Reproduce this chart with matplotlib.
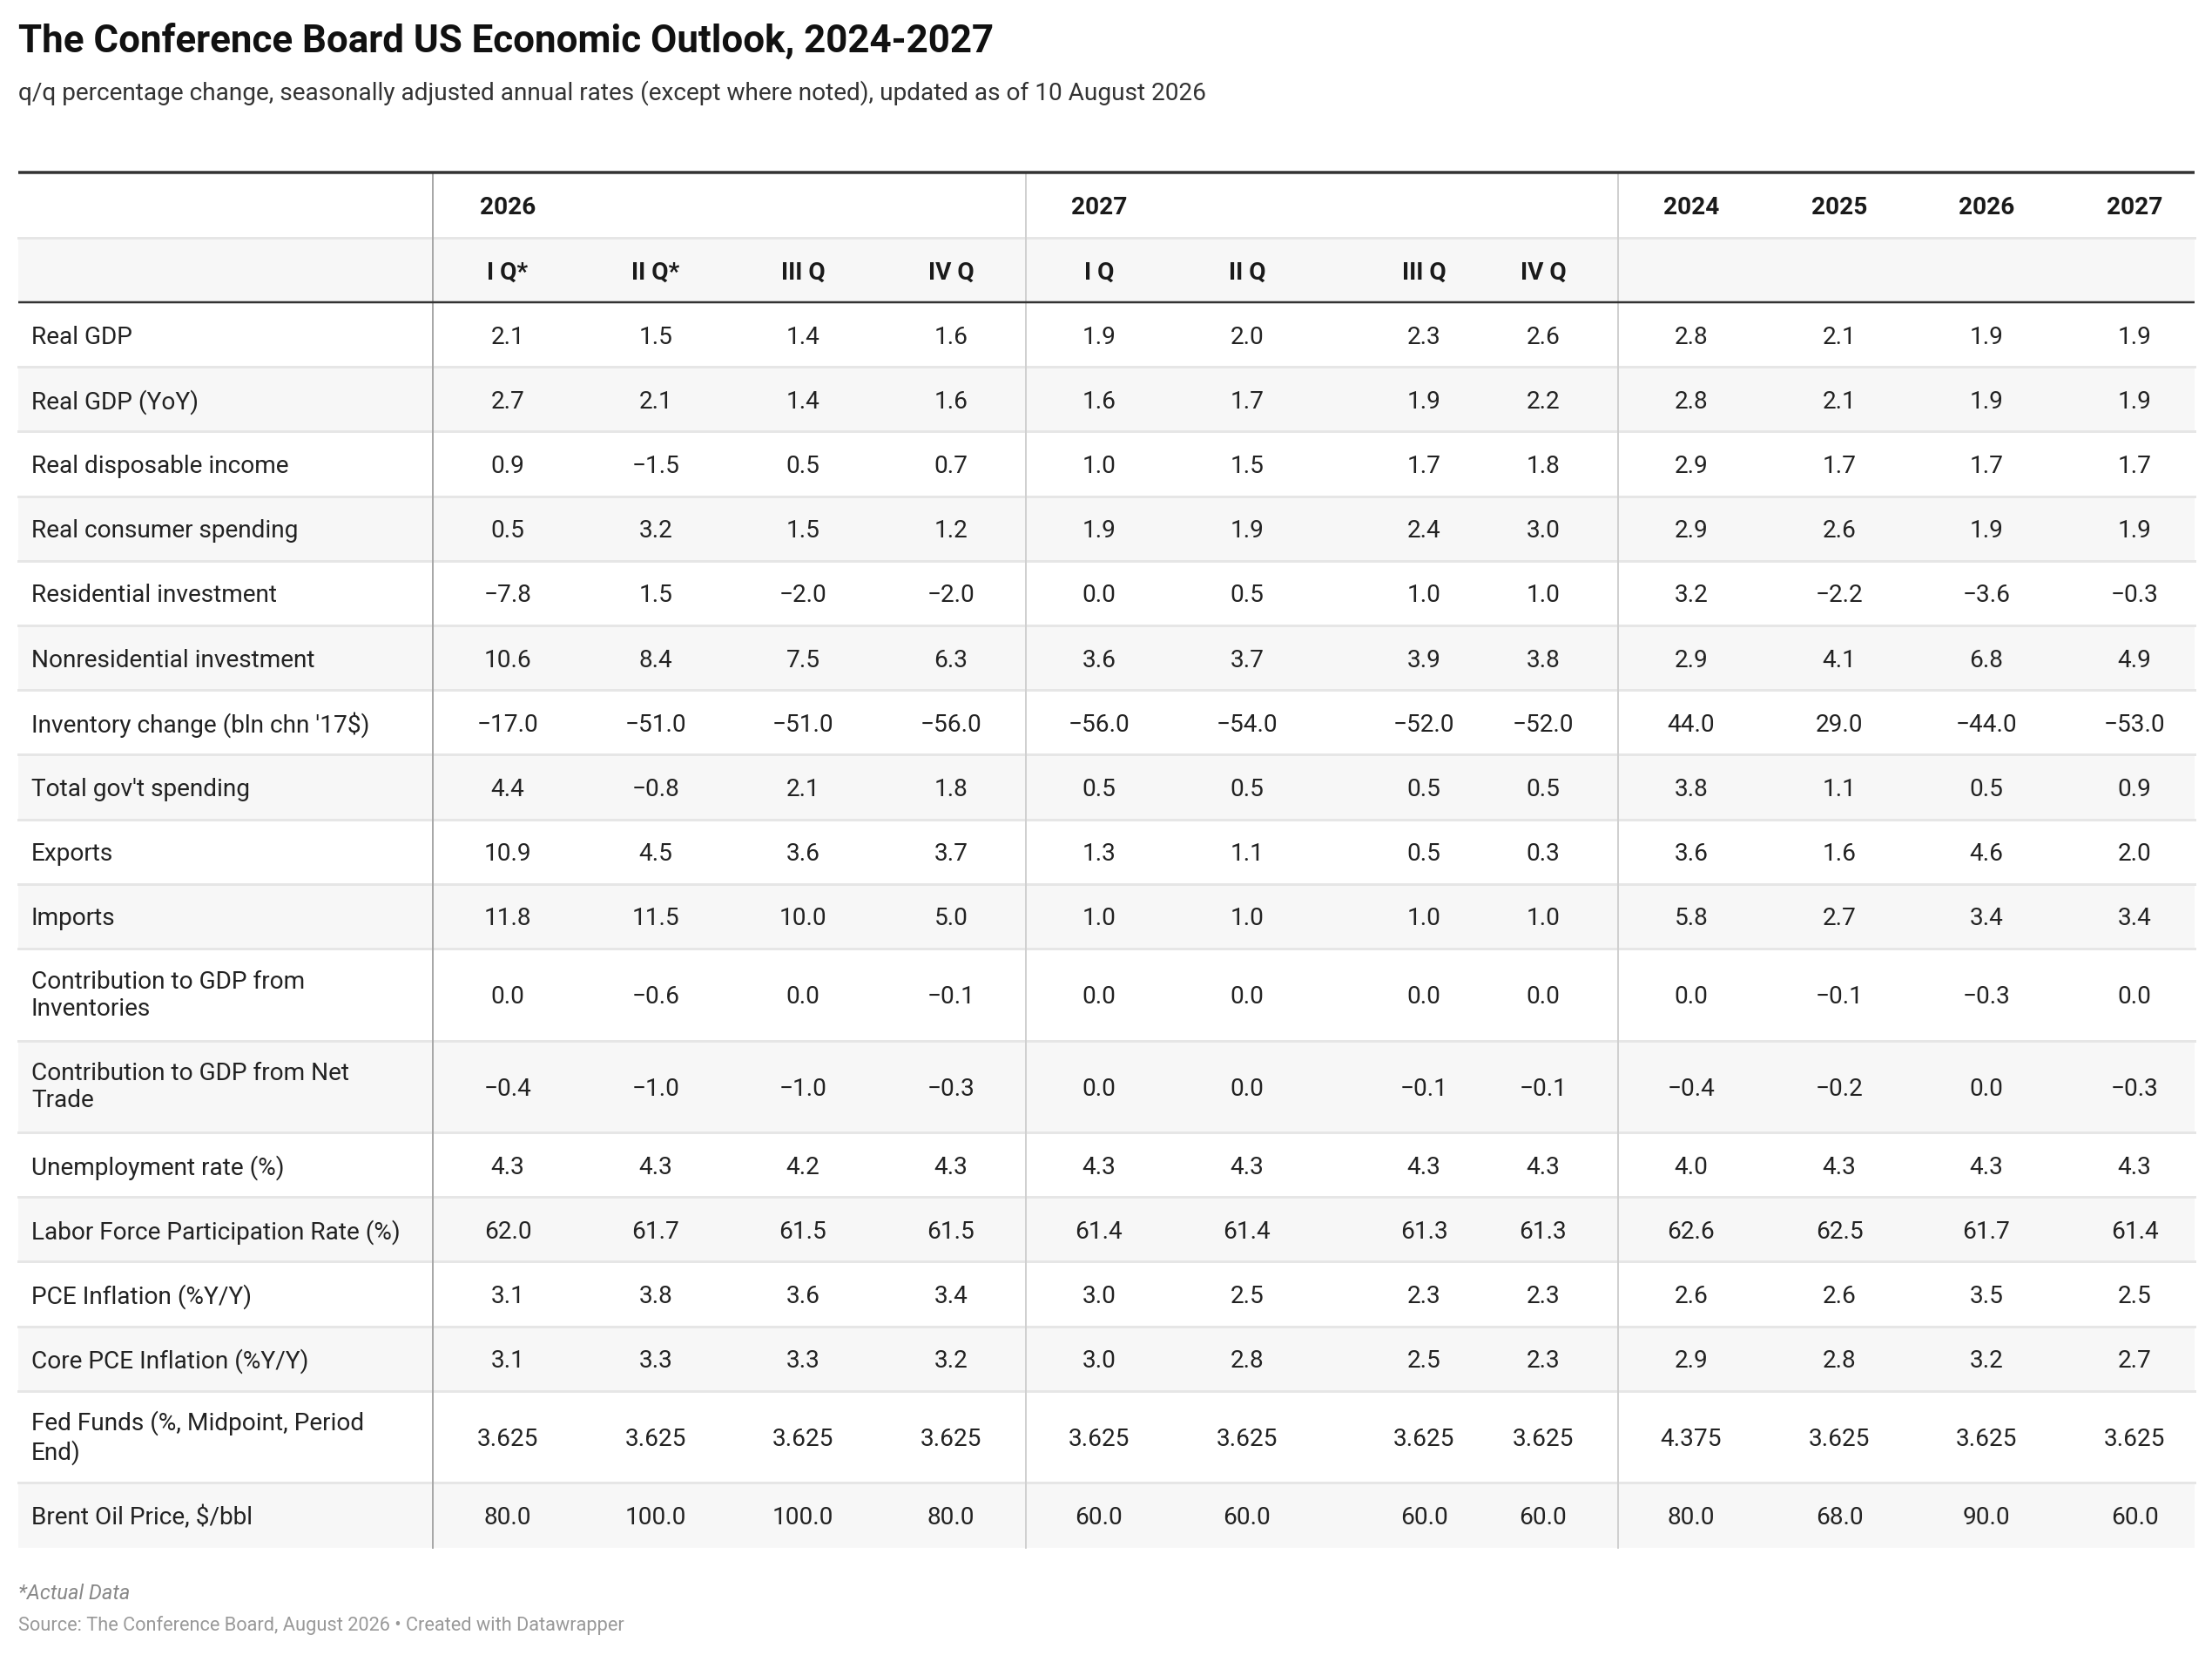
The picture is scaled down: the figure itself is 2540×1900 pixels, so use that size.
import matplotlib
matplotlib.use("Agg")
import matplotlib.pyplot as plt
from matplotlib.patches import Rectangle

plt.rcParams['font.family'] = ['Roboto', 'DejaVu Sans']

# ---- data ----
title = "The Conference Board US Economic Outlook, 2024-2027"
subtitle = ("q/q percentage change, seasonally adjusted annual rates (except where noted), "
            "updated as of 10 August 2026")
footnote = "*Actual Data"
source = "Source: The Conference Board, August 2026 \u2022 Created with Datawrapper"

group_years = ["2026", "2027"]
quarters_2026 = ["I Q*", "II Q*", "III Q", "IV Q"]
quarters_2027 = ["I Q", "II Q", "III Q", "IV Q"]
annual_years = ["2024", "2025", "2026", "2027"]

row_labels = [
    "Real GDP",
    "Real GDP (YoY)",
    "Real disposable income",
    "Real consumer spending",
    "Residential investment",
    "Nonresidential investment",
    "Inventory change (bln chn '17$)",
    "Total gov't spending",
    "Exports",
    "Imports",
    "Contribution to GDP from\nInventories",
    "Contribution to GDP from Net\nTrade",
    "Unemployment rate (%)",
    "Labor Force Participation Rate (%)",
    "PCE Inflation (%Y/Y)",
    "Core PCE Inflation (%Y/Y)",
    "Fed Funds (%, Midpoint, Period\nEnd)",
    "Brent Oil Price, $/bbl",
]

q2026 = [
    [2.1, 1.5, 1.4, 1.6],
    [2.7, 2.1, 1.4, 1.6],
    [0.9, -1.5, 0.5, 0.7],
    [0.5, 3.2, 1.5, 1.2],
    [-7.8, 1.5, -2.0, -2.0],
    [10.6, 8.4, 7.5, 6.3],
    [-17.0, -51.0, -51.0, -56.0],
    [4.4, -0.8, 2.1, 1.8],
    [10.9, 4.5, 3.6, 3.7],
    [11.8, 11.5, 10.0, 5.0],
    [0.0, -0.6, 0.0, -0.1],
    [-0.4, -1.0, -1.0, -0.3],
    [4.3, 4.3, 4.2, 4.3],
    [62.0, 61.7, 61.5, 61.5],
    [3.1, 3.8, 3.6, 3.4],
    [3.1, 3.3, 3.3, 3.2],
    [3.625, 3.625, 3.625, 3.625],
    [80.0, 100.0, 100.0, 80.0],
]

q2027 = [
    [1.9, 2.0, 2.3, 2.6],
    [1.6, 1.7, 1.9, 2.2],
    [1.0, 1.5, 1.7, 1.8],
    [1.9, 1.9, 2.4, 3.0],
    [0.0, 0.5, 1.0, 1.0],
    [3.6, 3.7, 3.9, 3.8],
    [-56.0, -54.0, -52.0, -52.0],
    [0.5, 0.5, 0.5, 0.5],
    [1.3, 1.1, 0.5, 0.3],
    [1.0, 1.0, 1.0, 1.0],
    [0.0, 0.0, 0.0, 0.0],
    [0.0, 0.0, -0.1, -0.1],
    [4.3, 4.3, 4.3, 4.3],
    [61.4, 61.4, 61.3, 61.3],
    [3.0, 2.5, 2.3, 2.3],
    [3.0, 2.8, 2.5, 2.3],
    [3.625, 3.625, 3.625, 3.625],
    [60.0, 60.0, 60.0, 60.0],
]

annual = [
    [2.8, 2.1, 1.9, 1.9],
    [2.8, 2.1, 1.9, 1.9],
    [2.9, 1.7, 1.7, 1.7],
    [2.9, 2.6, 1.9, 1.9],
    [3.2, -2.2, -3.6, -0.3],
    [2.9, 4.1, 6.8, 4.9],
    [44.0, 29.0, -44.0, -53.0],
    [3.8, 1.1, 0.5, 0.9],
    [3.6, 1.6, 4.6, 2.0],
    [5.8, 2.7, 3.4, 3.4],
    [0.0, -0.1, -0.3, 0.0],
    [-0.4, -0.2, 0.0, -0.3],
    [4.0, 4.3, 4.3, 4.3],
    [62.6, 62.5, 61.7, 61.4],
    [2.6, 2.6, 3.5, 2.5],
    [2.9, 2.8, 3.2, 2.7],
    [4.375, 3.625, 3.625, 3.625],
    [80.0, 68.0, 90.0, 60.0],
]

decimals = [1] * 16 + [3, 1]


def fmt(v, d):
    s = f"{v:.{d}f}"
    return s.replace("-", "\u2212")


# ---- layout (pixel coordinates) ----
W, H = 2540, 1900
left, right = 21, 2520
label_x = 36
vlines = [497, 1178, 1858]
col_x = [583, 753, 922, 1092, 1262, 1432, 1635, 1772, 1942, 2112, 2281, 2451]
top = 198
head1_bottom = 273
head2_bottom = 347
single_h = 74.2
double_h = 105.5

TXT = "#222222"
fig = plt.figure(figsize=(W / 100, H / 100), dpi=100)
ax = fig.add_axes([0, 0, 1, 1])
ax.set_xlim(0, W)
ax.set_ylim(H, 0)
ax.axis("off")

px = 72 / 100  # points per pixel

ax.text(left, 60, title, fontsize=31.6, fontweight="bold", color="#111111",
        ha="left", va="baseline")
ax.text(left, 115, subtitle, fontsize=20.2, color="#333333",
        ha="left", va="baseline")

# header row 2 background
ax.add_patch(Rectangle((left, head1_bottom), right - left, head2_bottom - head1_bottom,
                       facecolor="#f7f7f7", edgecolor="none", zorder=0))

# body rows
y = head2_bottom
row_bounds = []
for i, lab in enumerate(row_labels):
    h = double_h if "\n" in lab else single_h
    row_bounds.append((y, y + h))
    if i % 2 == 1:
        ax.add_patch(Rectangle((left, y), right - left, h,
                               facecolor="#f7f7f7", edgecolor="none", zorder=0))
    y += h
bottom = y

# separators
ax.plot([left, right], [head1_bottom, head1_bottom], color="#e6e6e6", lw=3 * px, zorder=1)
for (y0, y1) in row_bounds[:-1]:
    ax.plot([left, right], [y1, y1], color="#e6e6e6", lw=3 * px, zorder=1)

ax.plot([left, right], [top, top], color="#333333", lw=3.5 * px, zorder=3,
        solid_capstyle="butt")
ax.plot([left, right], [head2_bottom, head2_bottom], color="#333333", lw=2.5 * px, zorder=3,
        solid_capstyle="butt")

for k, vx in enumerate(vlines):
    ax.plot([vx, vx], [top + 2, bottom], color="#a8a8a8" if k == 0 else "#d0d0d0",
            lw=2 * px, zorder=2)

# headers
fs = 20.2
h1y = (top + head1_bottom) / 2
h2y = (head1_bottom + head2_bottom) / 2
ax.text(col_x[0], h1y, group_years[0], fontsize=fs, fontweight="bold", color="#1a1a1a",
        ha="center", va="center_baseline")
ax.text(col_x[4], h1y, group_years[1], fontsize=fs, fontweight="bold", color="#1a1a1a",
        ha="center", va="center_baseline")
for j, yr in enumerate(annual_years):
    ax.text(col_x[8 + j], h1y, yr, fontsize=fs, fontweight="bold", color="#1a1a1a",
            ha="center", va="center_baseline")
for j, q in enumerate(quarters_2026 + quarters_2027):
    ax.text(col_x[j], h2y, q, fontsize=fs, fontweight="bold", color="#1a1a1a",
            ha="center", va="center_baseline")

# body text
for i, lab in enumerate(row_labels):
    y0, y1 = row_bounds[i]
    cy = (y0 + y1) / 2
    if "\n" in lab:
        ax.text(label_x, cy + 1, lab, fontsize=fs, color=TXT, ha="left", va="center",
                linespacing=1.2)
    else:
        ax.text(label_x, cy, lab, fontsize=fs, color=TXT, ha="left",
                va="center_baseline")
    vals = q2026[i] + q2027[i] + annual[i]
    for j, v in enumerate(vals):
        ax.text(col_x[j], cy, fmt(v, decimals[i]), fontsize=fs, color=TXT,
                ha="center", va="center_baseline")

# footer
ax.text(left, 1836, footnote, fontsize=17, style="italic", color="#888888",
        ha="left", va="baseline")
ax.text(left, 1872, source, fontsize=15.7, color="#999999", ha="left", va="baseline")

fig.savefig("out.png", dpi=100, facecolor="white")
